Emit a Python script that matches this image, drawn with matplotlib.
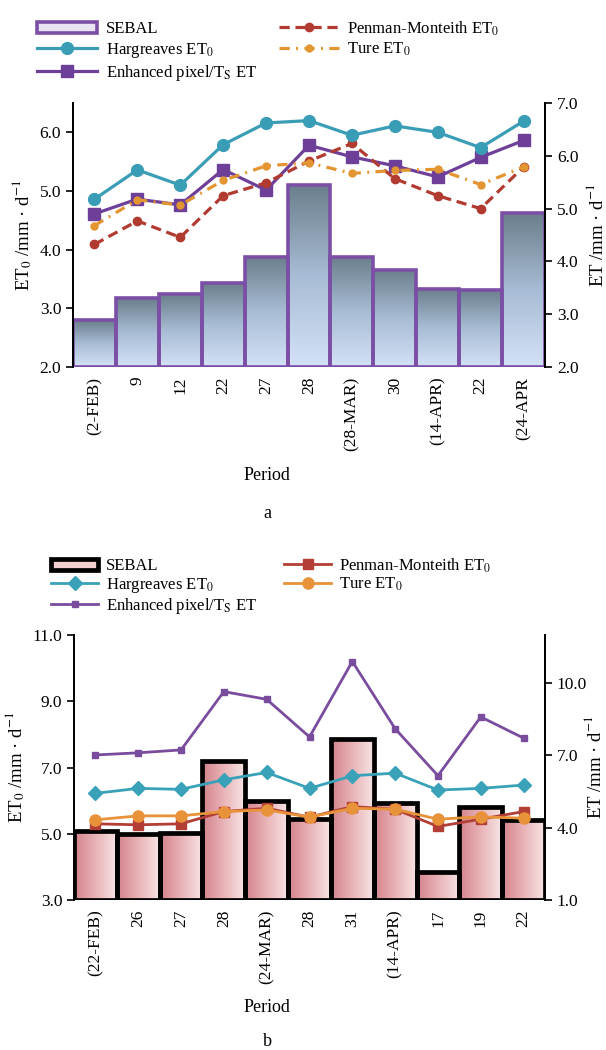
import matplotlib
matplotlib.use("Agg")
import matplotlib.pyplot as plt
import numpy as np
from matplotlib.colors import LinearSegmentedColormap
from matplotlib.patches import Patch

plt.rcParams['font.family'] = ['Liberation Serif', 'DejaVu Serif']
plt.rcParams['mathtext.fontset'] = 'stix'
plt.rcParams['font.size'] = 12

# ---- data (a) ----
labels_a = ["(2-FEB)", "9", "12", "22", "27", "28", "(28-MAR)", "30", "(14-APR)", "22", "(24-APR"]
sebal_a = [2.89, 3.30, 3.38, 3.60, 4.09, 5.45, 4.09, 3.84, 3.48, 3.46, 4.91]
harg_a = [4.86, 5.36, 5.10, 5.79, 6.16, 6.20, 5.95, 6.11, 6.00, 5.74, 6.19]
enh_a = [4.90, 5.18, 5.07, 5.74, 5.35, 6.20, 5.98, 5.81, 5.60, 5.97, 6.29]
pm_a = [4.09, 4.49, 4.21, 4.92, 5.14, 5.51, 5.81, 5.21, 4.92, 4.70, 5.41]
ture_a = [4.41, 4.85, 4.76, 5.18, 5.43, 5.48, 5.30, 5.35, 5.37, 5.11, 5.41]

# ---- data (b) ----
labels_b = ["(22-FEB)", "26", "27", "28", "(24-MAR)", "28", "31", "(14-APR)", "17", "19", "22"]
sebal_b = [3.86, 3.72, 3.79, 6.79, 5.11, 4.35, 7.67, 5.04, 2.18, 4.88, 4.32]
harg_b = [6.22, 6.37, 6.34, 6.63, 6.85, 6.37, 6.75, 6.83, 6.32, 6.37, 6.47]
enh_b = [7.02, 7.11, 7.23, 9.65, 9.33, 7.77, 10.90, 8.11, 6.16, 8.60, 7.72]
pm_b = [5.30, 5.27, 5.30, 5.67, 5.77, 5.50, 5.82, 5.74, 5.22, 5.44, 5.67]
ture_b = [5.42, 5.54, 5.54, 5.67, 5.72, 5.50, 5.77, 5.74, 5.44, 5.51, 5.47]

names = ["SEBAL", "Hargreaves ET$_0$", r"Enhanced pixel/T$_\mathrm{S}$ ET",
         "Penman-Monteith ET$_0$", "Ture ET$_0$"]

fig = plt.figure(figsize=(6.06, 10.5), dpi=100)


def gradient_bars(ax2, x, h, base, edge, lw, cmap, vertical):
    bars = ax2.bar(x, np.array(h) - base, bottom=base, width=1.0,
                   facecolor='none', edgecolor=edge, linewidth=lw, zorder=2)
    for b in bars:
        x0, y0 = b.get_x(), b.get_y()
        x1, y1 = x0 + b.get_width(), y0 + b.get_height()
        if vertical:
            grad = np.linspace(0, 1, 64).reshape(-1, 1)
        else:
            grad = np.linspace(0, 1, 64).reshape(1, -1)
        im = ax2.imshow(grad, extent=[x0, x1, y0, y1], origin='lower', aspect='auto',
                        cmap=cmap, zorder=1.5, interpolation='bilinear')
        im.set_clip_path(b)
    return bars


def setup(ax, ax2, labels, lylim, lticks, rylim, rticks):
    x = np.arange(len(labels))
    ax.set_xlim(-0.5, len(labels) - 0.5)
    ax.set_ylim(*lylim)
    ax.set_yticks(lticks)
    ax.set_yticklabels(["%.1f" % t for t in lticks])
    ax2.set_ylim(*rylim)
    ax2.set_yticks(rticks)
    ax2.set_yticklabels(["%.1f" % t for t in rticks])
    ax.set_xticks(x)
    ax.set_xticklabels(labels, rotation=90)
    ax.tick_params(axis='x', length=0, pad=7, labelsize=12.5)
    ax.tick_params(axis='y', direction='out', length=5, width=1.2, labelsize=12.5)
    ax2.tick_params(axis='y', direction='out', length=5, width=1.2, labelsize=12.5)
    ax2.tick_params(axis='x', length=0)
    for a in (ax, ax2):
        a.spines['top'].set_visible(False)
        a.spines['bottom'].set_visible(False)
        a.spines['left'].set_linewidth(1.3)
        a.spines['right'].set_linewidth(1.3)
    ax.set_zorder(ax2.get_zorder() + 1)
    ax.patch.set_visible(False)


# ================= chart a =================
ax = fig.add_axes([73 / 606, 1 - 367 / 1050, 472 / 606, 264 / 1050])
ax2 = ax.twinx()
xa = np.arange(len(labels_a))
cmap_a = LinearSegmentedColormap.from_list("ga", ["#d3e1f6", "#a8bcd5", "#6c7f8d"])
gradient_bars(ax2, xa, sebal_a, 2.0, "#7b4fa6", 2.6, cmap_a, True)
le, = ax2.plot(xa, enh_a, '-s', color="#6d3f99", lw=2.3, ms=8, zorder=3)
lh, = ax.plot(xa, harg_a, '-o', color="#3a9db6", lw=2.3, ms=8.5, zorder=4)
lp, = ax.plot(xa, pm_a, '--o', color="#b13b30", lw=2.3, ms=6, dashes=(3.2, 1.8), zorder=3)
lt, = ax.plot(xa, ture_a, '-.o', color="#e39532", lw=2.3, ms=5, dashes=(3.2, 2.0, 0.6, 2.0), zorder=3)
setup(ax, ax2, labels_a, (2.0, 6.5), [2, 3, 4, 5, 6], (2.0, 7.0), [2, 3, 4, 5, 6, 7])
ax.set_ylabel("ET$_0$ /mm · d$^{-1}$", labelpad=4, fontsize=13.5)
ax2.set_ylabel("ET /mm · d$^{-1}$", fontsize=13.5)
ax2.yaxis.set_label_coords(1.086, 0.5)
fig.text(267 / 606, 1 - 475 / 1050, "Period", ha='center', va='center', fontsize=13)
fig.text(267 / 606, 1 - 513 / 1050, "a", ha='center', va='center', fontsize=13)
sebal_h_a = Patch(facecolor="#e9e4f4", edgecolor="#7b4fa6", linewidth=2.6)
fig.legend([sebal_h_a, lh, le, lp, lt], names,
           loc='upper left', bbox_to_anchor=(29 / 606, 1 - 11 / 1050), ncol=2,
           frameon=False, borderpad=0, handlelength=3.6, labelspacing=0.2,
           columnspacing=1.3, handletextpad=0.5, fontsize=12)

# ================= chart b =================
bx = fig.add_axes([74 / 606, 1 - 900 / 1050, 471 / 606, 265 / 1050])
bx2 = bx.twinx()
xb = np.arange(len(labels_b))
cmap_b = LinearSegmentedColormap.from_list("gb", ["#d3838b", "#e9b3b7", "#f7e4e4"])
gradient_bars(bx2, xb, sebal_b, 1.0, "black", 3.4, cmap_b, False)
le2, = bx2.plot(xb, enh_b, '-s', color="#7a4c9e", lw=2.0, ms=4, zorder=3)
lh2, = bx.plot(xb, harg_b, '-D', color="#3aa2b8", lw=2.0, ms=7, zorder=4)
lp2, = bx.plot(xb, pm_b, '-s', color="#b23e36", lw=2.0, ms=6.5, zorder=3)
lt2, = bx.plot(xb, ture_b, '-o', color="#e8923a", lw=2.0, ms=8, zorder=4)
setup(bx, bx2, labels_b, (3.0, 11.0), [3, 5, 7, 9, 11], (1.0, 12.0), [1, 4, 7, 10])
bx.set_ylabel("ET$_0$ /mm · d$^{-1}$", labelpad=4, fontsize=13.5)
bx2.set_ylabel("ET /mm · d$^{-1}$", fontsize=13.5)
bx2.yaxis.set_label_coords(1.083, 0.5)
fig.text(267 / 606, 1 - 1007 / 1050, "Period", ha='center', va='center', fontsize=13)
fig.text(267 / 606, 1 - 1042 / 1050, "b", ha='center', va='center', fontsize=13)
sebal_h_b = Patch(facecolor="#f3cfd2", edgecolor="black", linewidth=3.4)
fig.legend([sebal_h_b, lh2, le2, lp2, lt2], names,
           loc='upper left', bbox_to_anchor=(43 / 606, 1 - 548 / 1050), ncol=2,
           frameon=False, borderpad=0, handlelength=2.8, labelspacing=0.08,
           columnspacing=1.6, handletextpad=0.5, fontsize=12)

fig.savefig("out.png", dpi=100)
